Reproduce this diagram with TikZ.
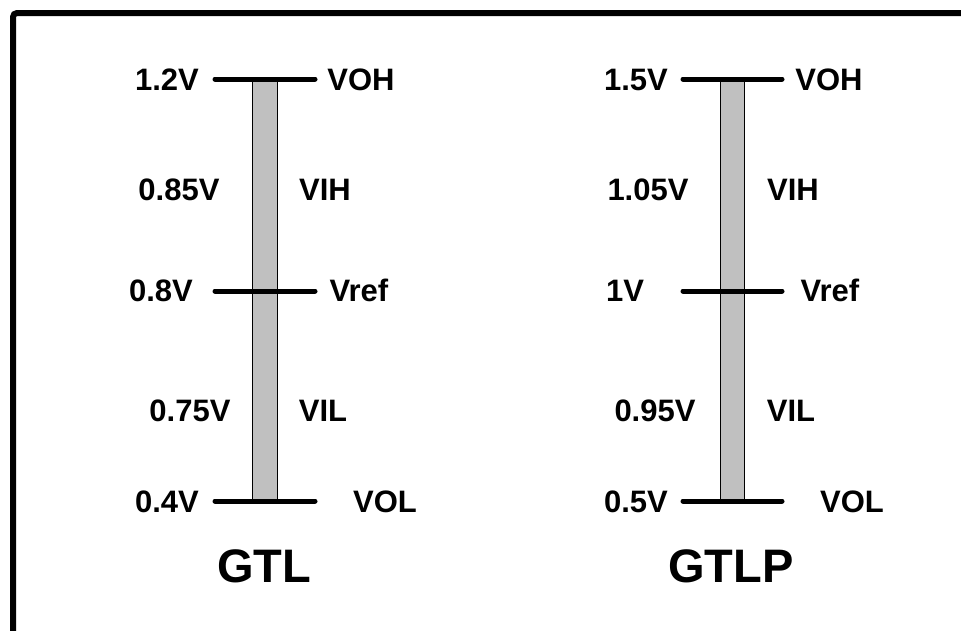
\documentclass[tikz,border=0pt]{standalone}
\usepackage{fontspec}
\setmainfont{Liberation Sans}
\begin{document}
\begin{tikzpicture}[x=1pt,y=-1pt,
  lbl/.style={font=\bfseries\fontsize{31}{34}\selectfont, inner sep=0pt, anchor=base},
  title/.style={font=\bfseries\fontsize{47}{50}\selectfont, inner sep=0pt, anchor=base},
  level/.style={line width=5pt, line cap=round},
  barbox/.style={draw=black, line width=1pt, fill={rgb,255:red,192;green,192;blue,192}},
  frame/.style={line width=6pt, rounded corners=4pt}]
\useasboundingbox (0,0) rectangle (961,630);
% frame
\draw[frame] (13,640) -- (13,13) -- (970,13);
% ---- GTL ----
\draw[barbox] (252,79) rectangle (277,501);
\draw[level] (215,79) -- (315,79);
\draw[level] (215,291) -- (315,291);
\draw[level] (215,501) -- (315,501);
\node[lbl] (a1) at (167,90) {1.2V};
\node[lbl] (a2) at (179,200) {0.85V};
\node[lbl] (a3) at (161,301) {0.8V};
\node[lbl] (a4) at (190,421) {0.75V};
\node[lbl] (a5) at (167,512) {0.4V};
\node[lbl] (b1) at (361,90) {VOH};
\node[lbl] (b2) at (325,200) {VIH};
\node[lbl] (b3) at (359,301) {Vref};
\node[lbl] (b4) at (323,421) {VIL};
\node[lbl] (b5) at (385,512) {VOL};
\node[title] (t1) at (264,582) {GTL};
% ---- GTLP ----
\draw[barbox] (720,79) rectangle (744,501);
\draw[level] (683,79) -- (782,79);
\draw[level] (683,291) -- (782,291);
\draw[level] (683,501) -- (782,501);
\node[lbl] (c1) at (636,90) {1.5V};
\node[lbl] (c2) at (648,200) {1.05V};
\node[lbl] (c3) at (625,301) {1V};
\node[lbl] (c4) at (655,421) {0.95V};
\node[lbl] (c5) at (636,512) {0.5V};
\node[lbl] (d1) at (829,90) {VOH};
\node[lbl] (d2) at (793,200) {VIH};
\node[lbl] (d3) at (830,301) {Vref};
\node[lbl] (d4) at (791,421) {VIL};
\node[lbl] (d5) at (852,512) {VOL};
\node[title] (t2) at (731,582) {GTLP};
\end{tikzpicture}
\end{document}
